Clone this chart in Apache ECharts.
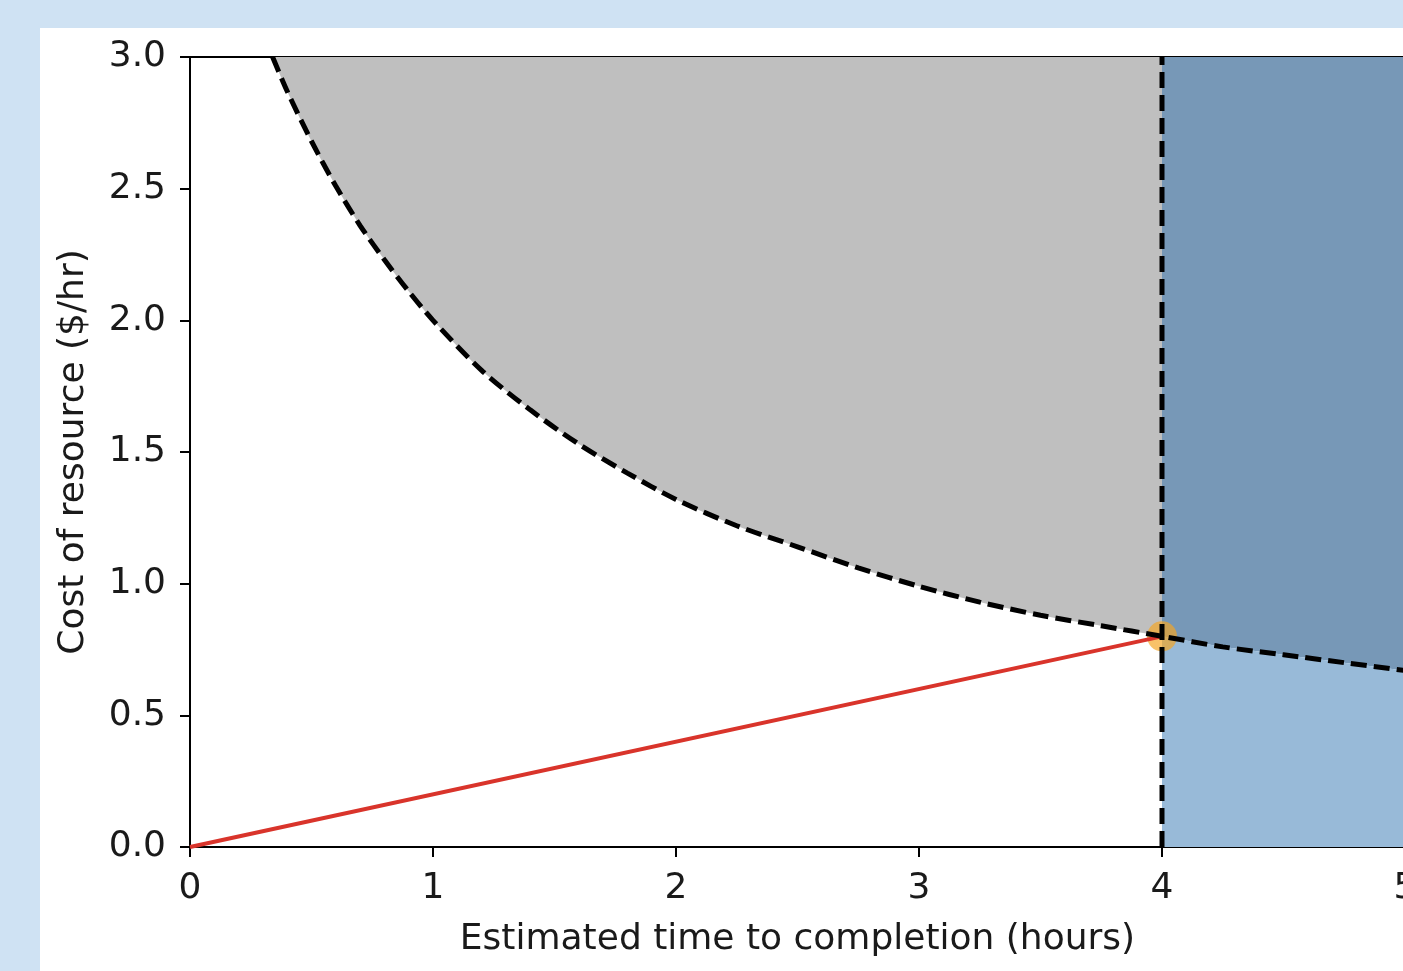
<!DOCTYPE html>
<html>
<head>
<meta charset="utf-8">
<script src="https://cdn.jsdelivr.net/npm/echarts@6/dist/echarts.min.js"></script>
<style>
html,body{margin:0;padding:0;background:#cfe2f3;width:1403px;height:971px;overflow:hidden;}
#chart{position:absolute;left:40px;top:28px;width:1363px;height:943px;background:#ffffff;}
</style>
</head>
<body>
<div id="chart"></div>
<script>
// Values
const xTicks = [0, 1, 2, 3, 4, 5];
const yTicks = [0.0, 0.5, 1.0, 1.5, 2.0, 2.5, 3.0];
const curveX = [0.34, 0.4, 0.5, 0.6, 0.7, 0.8, 0.9, 1.0, 1.2, 1.4, 1.6, 1.8, 2.0, 2.25, 2.5, 2.75, 3.0, 3.25, 3.5, 3.75, 4.0, 4.25, 4.5, 4.75, 5.0];
const curveY = [3.00, 2.87, 2.68, 2.51, 2.36, 2.23, 2.11, 2.00, 1.81, 1.66, 1.53, 1.42, 1.32, 1.22, 1.14, 1.06, 0.99, 0.93, 0.88, 0.84, 0.80, 0.76, 0.73, 0.70, 0.67];
const deadline = 4.0;
const redLineX = [0, 4];
const redLineY = [0, 0.8];
const pointX = 4;
const pointY = 0.8;
const xName = 'Estimated time to completion (hours)';
const yName = 'Cost of resource ($/hr)';

const curve = curveX.map((x, i) => [x, curveY[i]]);
const before = curve.filter(p => p[0] <= deadline);
const after = curve.filter(p => p[0] >= deadline);
const yMax = yTicks[yTicks.length - 1];

const FONT = 'DejaVu Sans';
const FS = 36;
const txt = '#1a1a1a';

const chart = echarts.init(document.getElementById('chart'), null, {renderer: 'canvas'});
chart.setOption({
  animation: false,
  backgroundColor: '#ffffff',
  grid: {left: 150, top: 29, width: 1215, height: 790, containLabel: false, outerBoundsMode: 'none'},
  xAxis: [{
    type: 'value', min: xTicks[0], max: xTicks[xTicks.length - 1], interval: 1,
    name: xName, nameLocation: 'middle', nameGap: 75,
    nameTextStyle: {fontFamily: FONT, fontSize: FS, color: txt},
    axisLine: {show: true, onZero: false, lineStyle: {color: '#000', width: 2}},
    axisTick: {show: true, length: 10, lineStyle: {color: '#000', width: 2}},
    axisLabel: {fontFamily: FONT, fontSize: FS, color: txt, margin: 24, showMaxLabel: true},
    splitLine: {show: false}
  }, {
    type: 'value', position: 'top', min: xTicks[0], max: xTicks[xTicks.length - 1],
    axisLine: {show: true, onZero: false, lineStyle: {color: '#000', width: 2}},
    axisTick: {show: false}, axisLabel: {show: false}, splitLine: {show: false}
  }],
  yAxis: {
    type: 'value', min: yTicks[0], max: yMax, interval: 0.5,
    name: yName, nameLocation: 'middle', nameGap: 98, nameRotate: 90,
    nameTextStyle: {fontFamily: FONT, fontSize: FS, color: txt},
    axisLine: {show: true, onZero: false, lineStyle: {color: '#000', width: 2}},
    axisTick: {show: true, length: 10, lineStyle: {color: '#000', width: 2}},
    axisLabel: {fontFamily: FONT, fontSize: FS, color: txt, margin: 24,
      formatter: v => v.toFixed(1)},
    splitLine: {show: false}
  },
  series: [
    {type: 'line', data: before, symbol: 'none', z: 1, smooth: 0.3,
     lineStyle: {width: 0}, areaStyle: {origin: 'end', color: '#bfbfbf', opacity: 1}},
    {type: 'line', data: after, symbol: 'none', z: 1, smooth: 0.3,
     lineStyle: {width: 0}, areaStyle: {origin: 'end', color: '#7798b7', opacity: 1}},
    {type: 'line', data: after, symbol: 'none', z: 1, smooth: 0.3,
     lineStyle: {width: 0}, areaStyle: {origin: 'start', color: '#98bad8', opacity: 1}},
    {type: 'scatter', data: [[pointX, pointY]], symbolSize: 30, z: 2,
     itemStyle: {color: 'rgba(245,166,35,0.85)'}},
    {type: 'line', data: redLineX.map((x, i) => [x, redLineY[i]]), symbol: 'none', z: 3,
     lineStyle: {color: '#d9342b', width: 4}},
    {type: 'line', data: [[deadline, yTicks[0]], [deadline, yMax]], symbol: 'none', z: 4,
     lineStyle: {color: '#000', width: 5, type: [16, 7]}},
    {type: 'line', data: curve, symbol: 'none', smooth: 0.3, z: 5,
     lineStyle: {color: '#000', width: 5, type: [16, 7]}}
  ]
});
</script>
</body>
</html>
